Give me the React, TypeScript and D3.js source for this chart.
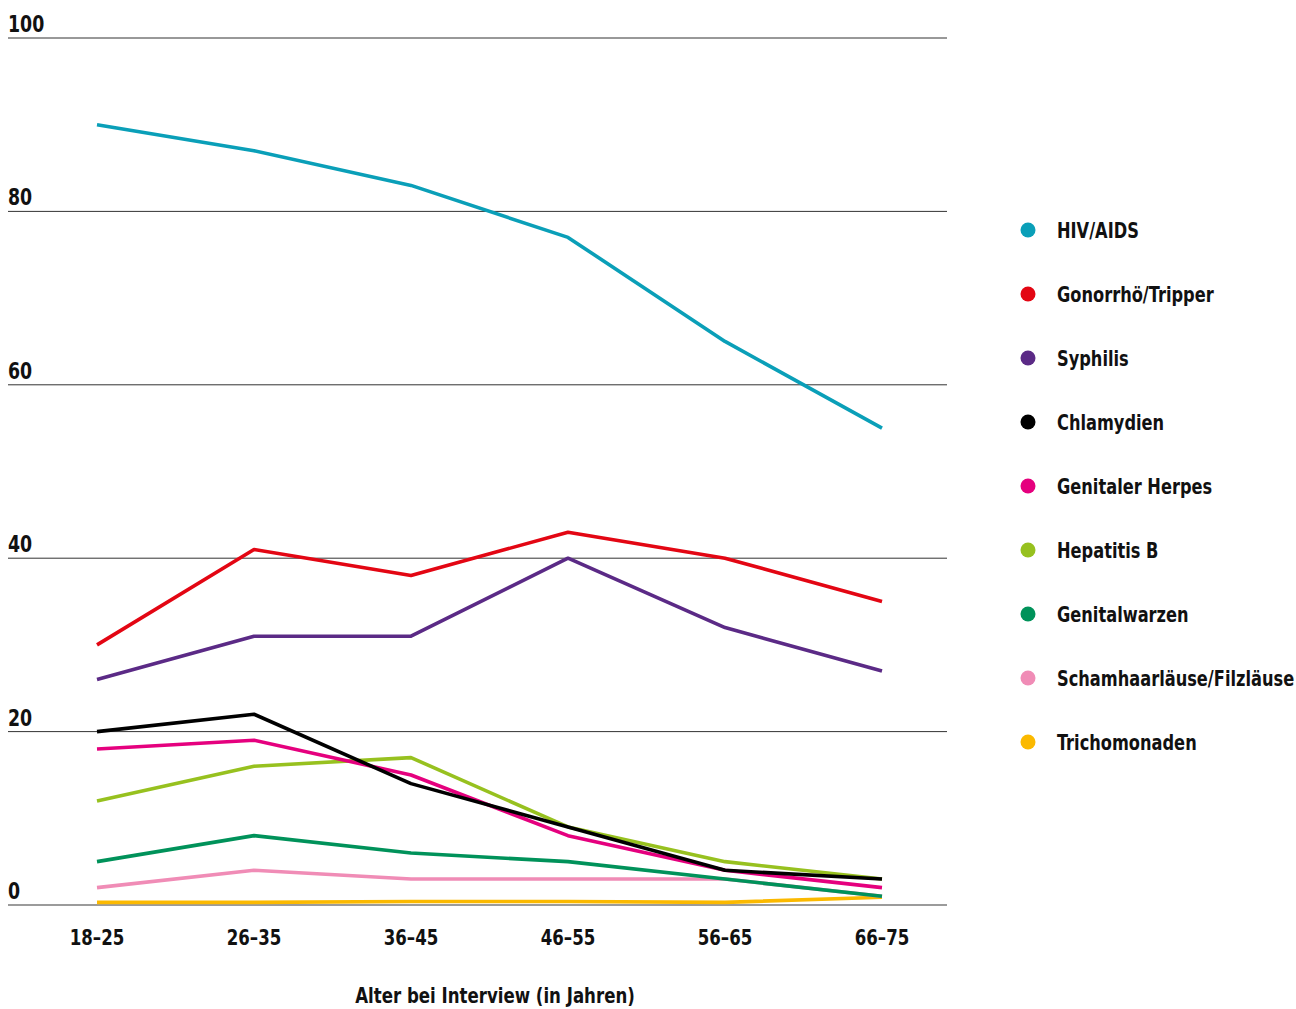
import React from "react";
import * as d3 from "d3";

const categories = ["18–25", "26–35", "36–45", "46–55", "56–65", "66–75"];
const yTicks = [0, 20, 40, 60, 80, 100];

const seriesNames = [
  "HIV/AIDS",
  "Gonorrhö/Tripper",
  "Syphilis",
  "Chlamydien",
  "Genitaler Herpes",
  "Hepatitis B",
  "Genitalwarzen",
  "Schamhaarläuse/Filzläuse",
  "Trichomonaden",
];
const seriesColors = [
  "#0a9fb8",
  "#e30613",
  "#5b2a86",
  "#000000",
  "#e5007e",
  "#97c11f",
  "#00925a",
  "#f08cb6",
  "#fbb900",
];
const hiv = [90, 87, 83, 77, 65, 55];
const gonorrhoe = [30, 41, 38, 43, 40, 35];
const syphilis = [26, 31, 31, 40, 32, 27];
const chlamydien = [20, 22, 14, 9, 4, 3];
const herpes = [18, 19, 15, 8, 4, 2];
const hepatitisB = [12, 16, 17, 9, 5, 3];
const genitalwarzen = [5, 8, 6, 5, 3, 1];
const filzlaeuse = [2, 4, 3, 3, 3, 1];
const trichomonaden = [0.3, 0.3, 0.4, 0.4, 0.3, 0.9];
const seriesValues = [hiv, gonorrhoe, syphilis, chlamydien, herpes, hepatitisB, genitalwarzen, filzlaeuse, trichomonaden];

// draw order (bottom to top)
const drawOrder = [8, 7, 6, 5, 4, 3, 2, 1, 0];

const FONT = "'DejaVu Sans Condensed', 'DejaVu Sans', sans-serif";

function T({ x, y, size = 22, sx = 0.84, anchor = "start", children }: { x: number; y: number; size?: number; sx?: number; anchor?: string; children: React.ReactNode }) {
  return (
    <text
      transform={`translate(${x},${y}) scale(${sx},1)`}
      textAnchor={anchor}
      fontSize={size}
      fontWeight="bold"
      fill="#111"
    >
      {children}
    </text>
  );
}

export default function App() {
  const W = 1296;
  const H = 1009;
  const x = d3.scalePoint<string>().domain(categories).range([97, 882]);
  const y = d3.scaleLinear().domain([0, 100]).range([905, 38]);
  const line = d3
    .line<number>()
    .x((_, i) => x(categories[i]) as number)
    .y((d) => y(d));

  return (
    <svg width={W} height={H} style={{ position: "absolute", left: 0, top: 0, fontFamily: FONT }}>
      {yTicks.map((t) => (
        <g key={t}>
          <line
            x1={8}
            x2={947}
            y1={y(t)}
            y2={y(t)}
            stroke={t === 0 ? "#7a7a7a" : "#333"}
            strokeWidth={t === 0 ? 1.6 : 1}
          />
          <T x={8} y={y(t) - 6} size={23}>
            {t}
          </T>
        </g>
      ))}
      {drawOrder.map((si) => (
        <path
          key={si}
          d={line(seriesValues[si]) || ""}
          fill="none"
          stroke={seriesColors[si]}
          strokeWidth={3.6}
          strokeLinejoin="round"
        />
      ))}
      {categories.map((c) => (
        <T key={c} x={x(c) as number} y={945} anchor="middle">
          {c}
        </T>
      ))}
      <T x={495} y={1003} anchor="middle">
        Alter bei Interview (in Jahren)
      </T>
      {seriesNames.map((n, i) => (
        <g key={n}>
          <circle cx={1028} cy={230 + i * 64} r={7.5} fill={seriesColors[i]} />
          <T x={1057} y={238 + i * 64} sx={0.82}>
            {n}
          </T>
        </g>
      ))}
    </svg>
  );
}
